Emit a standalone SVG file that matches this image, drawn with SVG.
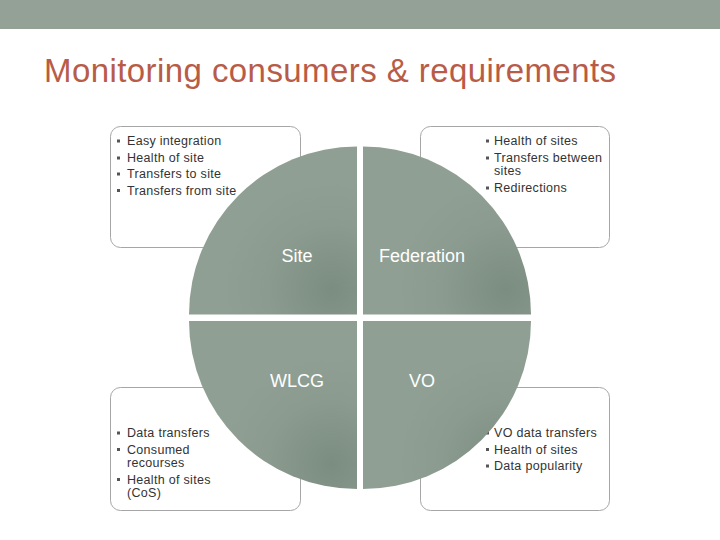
<svg xmlns="http://www.w3.org/2000/svg" width="720" height="540" viewBox="0 0 720 540">
<style>
.box{fill:#fff;stroke:#a6a6a6;stroke-width:1}
.t{font-family:"Liberation Sans",Arial,sans-serif;font-size:12.5px;fill:#333;letter-spacing:0.3px}
.b{fill:#555}
.q{fill:url(#qg)}
.ql{font-family:"Liberation Sans",Arial,sans-serif;font-size:18px;fill:#fff;text-anchor:middle}
</style>
<defs>
<radialGradient id="qg" cx="0.85" cy="0.85" r="0.65">
<stop offset="0" stop-color="#7b8c81"/>
<stop offset="0.6" stop-color="#8b9b90"/>
<stop offset="1" stop-color="#8f9f94"/>
</radialGradient>
</defs>
<rect x="0" y="0" width="720" height="540" fill="#fff"/>
<rect x="0" y="0" width="720" height="29" fill="#93a196"/>
<text x="44" y="82" font-family="Liberation Sans,Arial,sans-serif" font-size="33" fill="#b85c47" textLength="572">Monitoring consumers &amp; requirements</text>

<g id="box-site">
<rect class="box" x="110.5" y="126.5" width="190" height="121" rx="10"/>
<rect class="b" x="117" y="139.5" width="3" height="3"/><text class="t" x="127" y="145">Easy integration</text>
<rect class="b" x="117" y="156.5" width="3" height="3"/><text class="t" x="127" y="162">Health of site</text>
<rect class="b" x="117" y="172.5" width="3" height="3"/><text class="t" x="127" y="178">Transfers to site</text>
<rect class="b" x="117" y="189" width="3" height="3"/><text class="t" x="127" y="194.5">Transfers from site</text>
</g>
<g id="box-federation">
<rect class="box" x="420.5" y="126.5" width="189" height="121" rx="10"/>
<rect class="b" x="486" y="139.5" width="3" height="3"/><text class="t" x="494" y="145">Health of sites</text>
<rect class="b" x="486" y="156.5" width="3" height="3"/><text class="t" x="494" y="162">Transfers between</text>
<text class="t" x="494" y="175">sites</text>
<rect class="b" x="486" y="186.5" width="3" height="3"/><text class="t" x="494" y="192">Redirections</text>
</g>
<g id="box-wlcg">
<rect class="box" x="110.5" y="387.5" width="190" height="123" rx="10"/>
<rect class="b" x="117" y="431.5" width="3" height="3"/><text class="t" x="127" y="437">Data transfers</text>
<rect class="b" x="117" y="448" width="3" height="3"/><text class="t" x="127" y="453.5">Consumed</text>
<text class="t" x="127" y="467">recourses</text>
<rect class="b" x="117" y="478" width="3" height="3"/><text class="t" x="127" y="483.5">Health of sites</text>
<text class="t" x="127" y="497">(CoS)</text>
</g>
<g id="box-vo">
<rect class="box" x="420.5" y="387.5" width="189" height="123" rx="10"/>
<rect class="b" x="486" y="431.5" width="3" height="3"/><text class="t" x="494" y="437">VO data transfers</text>
<rect class="b" x="486" y="448" width="3" height="3"/><text class="t" x="494" y="453.5">Health of sites</text>
<rect class="b" x="486" y="464.5" width="3" height="3"/><text class="t" x="494" y="470">Data popularity</text>
</g>

<g id="q-site">
<path class="q" d="M357,314.5 L189,314.5 A168,168 0 0 1 357,146.5 Z"/>
<text class="ql" x="297" y="262">Site</text>
</g>
<g id="q-federation">
<path class="q" d="M363,314.5 L363,146.5 A168,168 0 0 1 531,314.5 Z"/>
<text class="ql" x="422" y="262">Federation</text>
</g>
<g id="q-wlcg">
<path class="q" d="M357,321 L357,489 A168,168 0 0 1 189,321 Z"/>
<text class="ql" x="297" y="387">WLCG</text>
</g>
<g id="q-vo">
<path class="q" d="M363,321 L531,321 A168,168 0 0 1 363,489 Z"/>
<text class="ql" x="422" y="387">VO</text>
</g>
</svg>
